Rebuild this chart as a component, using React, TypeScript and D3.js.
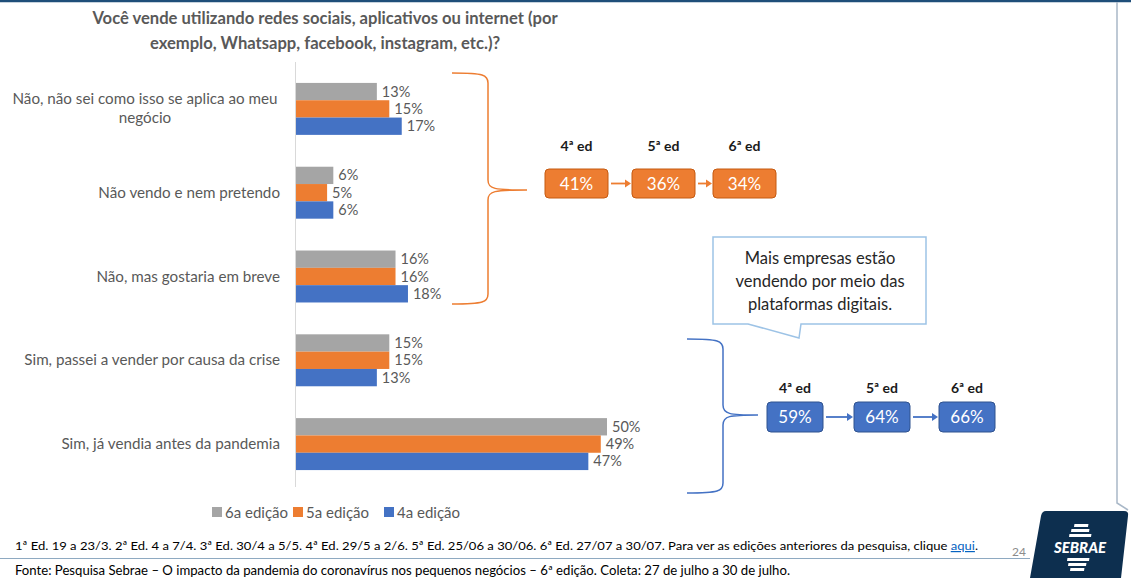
import React from 'react'
import * as d3 from 'd3'

// categories (top to bottom) and the three editions
const categories = [
  ['Não, não sei como isso se aplica ao meu', 'negócio'],
  ['Não vendo e nem pretendo'],
  ['Não, mas gostaria em breve'],
  ['Sim, passei a vender por causa da crise'],
  ['Sim, já vendia antes da pandemia'],
]
const series = ['6a edição', '5a edição', '4a edição']
const ed6 = [13, 6, 16, 15, 50]
const ed5 = [15, 5, 16, 15, 49]
const ed4 = [17, 6, 18, 13, 47]
const seriesValues = [ed6, ed5, ed4]
const colors = ['#A5A5A5', '#ED7D31', '#4472C4']

// summary boxes
const editions = ['4ª ed', '5ª ed', '6ª ed']
const naoTotals = [41, 36, 34]
const simTotals = [59, 64, 66]

const title = [
  'Você vende utilizando redes sociais, aplicativos ou internet (por',
  'exemplo, Whatsapp, facebook, instagram, etc.)?',
]
const callout = ['Mais empresas estão', 'vendendo por meio das', 'plataformas digitais.']
const footnote = '1ª Ed. 19 a 23/3. 2ª Ed. 4 a 7/4. 3ª Ed. 30/4 a 5/5. 4ª Ed. 29/5 a 2/6. 5ª Ed. 25/06 a 30/06. 6ª Ed. 27/07 a 30/07.  Para ver as edições anteriores da pesquisa, clique '
const source = 'Fonte: Pesquisa Sebrae – O impacto da pandemia do coronavírus nos pequenos negócios – 6ª edição. Coleta: 27 de julho a 30 de julho.'

const FONT = 'Lato, "Open Sans", sans-serif'
const TXT = '#595959'

// curly brace opening to the right: x0 = arms, x1 = spine, xt = tip
function brace(x0: number, x1: number, xt: number, yTop: number, yTip: number, yBot: number) {
  const p = d3.path()
  p.moveTo(x0, yTop)
  p.bezierCurveTo(x1 - 4, yTop, x1, yTop + 2, x1, yTop + 10)
  p.lineTo(x1, yTip - 10)
  p.bezierCurveTo(x1, yTip - 1, x1 + 6, yTip, xt, yTip)
  p.bezierCurveTo(x1 + 6, yTip, x1, yTip + 1, x1, yTip + 10)
  p.lineTo(x1, yBot - 10)
  p.bezierCurveTo(x1, yBot - 2, x1 - 4, yBot, x0, yBot)
  return p.toString()
}

function SummaryRow({ values, xs, yLabel, yBox, w, h, fill, stroke }: any) {
  return (
    <g>
      {values.map((v: number, i: number) => (
        <g key={i}>
          <text x={xs[i] + w / 2} y={yLabel} textAnchor="middle" fontFamily={FONT} fontWeight="bold" fontSize={14} fill="#1a1a1a">{editions[i]}</text>
          <rect x={xs[i]} y={yBox} width={w} height={h} rx={4} fill={fill} stroke={stroke} strokeWidth={1} />
          <text x={xs[i] + w / 2} y={yBox + h / 2 + 6} textAnchor="middle" fontFamily={FONT} fontSize={17} fill="#fff">{v}%</text>
          {i < values.length - 1 && (
            <g>
              <line x1={xs[i] + w + 3} x2={xs[i + 1] - 6} y1={yBox + h / 2} y2={yBox + h / 2} stroke={fill} strokeWidth={1.8} />
              <path d={`M${xs[i + 1] - 7},${yBox + h / 2 - 4}L${xs[i + 1] - 1},${yBox + h / 2}L${xs[i + 1] - 7},${yBox + h / 2 + 4}Z`} fill={fill} />
            </g>
          )}
        </g>
      ))}
    </g>
  )
}

// slanted white stripe of the logo
function stripe(cx: number, yTop: number, w: number) {
  const s = 0.15
  return `M${cx - w / 2 + s * 3},${yTop} L${cx + w / 2 + s * 3},${yTop} L${cx + w / 2},${yTop + 3} L${cx - w / 2},${yTop + 3} Z`
}

export default function App() {
  const width = 1131
  const height = 578
  const x = d3.scaleLinear().domain([0, 50]).range([296, 607])
  const y = d3.scaleBand<number>().domain(d3.range(categories.length)).range([67, 486]).paddingInner(0.38).paddingOuter(0.19)
  const ys = d3.scaleBand<number>().domain(d3.range(series.length)).range([0, y.bandwidth()])

  const orangeXs = [545, 632, 713]
  const blueXs = [767, 854, 939]

  return (
    <div style={{ position: 'absolute', left: 0, top: 0 }}>
      <svg width={width} height={height} style={{ display: 'block', background: '#fff' }}>
        {/* frame */}
        <line x1={0} x2={width} y1={1} y2={1} stroke="#1F4E79" strokeWidth={2.5} />
        <path d="M1117,2 L1117,503 L1128,510" fill="none" stroke="#A9B8C8" strokeWidth={1.5} />

        {/* title */}
        {title.map((t, i) => (
          <text key={i} x={325} y={24 + i * 25} textAnchor="middle" fontFamily={FONT} fontWeight="bold" fontSize={16.6} fill={TXT}>{t}</text>
        ))}

        {/* axis */}
        <line x1={x(0) - 0.5} x2={x(0) - 0.5} y1={62} y2={487} stroke="#D9D9D9" strokeWidth={1} />

        {/* category labels */}
        {categories.map((lines, i) => {
          const cy = y(i)! + y.bandwidth() / 2
          if (lines.length === 1) {
            return <text key={i} x={280} y={cy + 5} textAnchor="end" fontFamily={FONT} fontSize={15.2} fill={TXT}>{lines[0]}</text>
          }
          return (
            <text key={i} x={145} y={cy - 5} textAnchor="middle" fontFamily={FONT} fontSize={15.2} fill={TXT}>
              {lines.map((l, j) => <tspan key={j} x={145} dy={j === 0 ? 0 : 19}>{l}</tspan>)}
            </text>
          )
        })}

        {/* bars */}
        {seriesValues.map((vals, s) => (
          <g key={s}>
            {vals.map((v, i) => {
              const by = y(i)! + ys(s)!
              return (
                <g key={i}>
                  <rect x={x(0)} y={by} width={x(v) - x(0)} height={ys.bandwidth()} fill={colors[s]} />
                  <text x={x(v) + 5} y={by + ys.bandwidth() / 2 + 5} fontFamily={FONT} fontSize={14.5} fill={TXT}>{v}%</text>
                </g>
              )
            })}
          </g>
        ))}

        {/* legend */}
        {series.map((s, i) => {
          const lx = [212, 293, 384][i]
          return (
            <g key={s}>
              <rect x={lx} y={507} width={10} height={10} fill={colors[i]} />
              <text x={lx + 13} y={518} fontFamily={FONT} fontSize={15} fill={TXT}>{s}</text>
            </g>
          )
        })}

        {/* braces */}
        <path d={brace(452, 488, 527, 73, 190, 304)} fill="none" stroke="#ED7D31" strokeWidth={1.5} />
        <path d={brace(687, 723, 758, 339, 415, 493)} fill="none" stroke="#4472C4" strokeWidth={1.5} />

        {/* summary boxes */}
        <SummaryRow values={naoTotals} xs={orangeXs} yLabel={151} yBox={169} w={63} h={29} fill="#ED7D31" stroke="#C55A11" />
        <SummaryRow values={simTotals} xs={blueXs} yLabel={393} yBox={402} w={56} h={30} fill="#4472C4" stroke="#2F528F" />

        {/* callout */}
        <path d="M713,237 L926,237 L926,324 L801,324 L799,338 L748,324 L713,324 Z" fill="#fff" stroke="#9DC3E6" strokeWidth={1.5} />
        {callout.map((t, i) => (
          <text key={i} x={820} y={264 + i * 23} textAnchor="middle" fontFamily={FONT} fontSize={16.5} fill="#262626">{t}</text>
        ))}

        {/* footer */}
        <text x={15} y={550} fontFamily={FONT} fontSize={12} fill="#000" textLength={963} lengthAdjust="spacingAndGlyphs">
          {footnote}
          <tspan fill="#0563C1" textDecoration="underline">aqui</tspan>
          <tspan>.</tspan>
        </text>
        <line x1={0} x2={1030} y1={558.5} y2={558.5} stroke="#8EA9C1" strokeWidth={1} />
        <text x={1026} y={556} textAnchor="end" fontFamily={FONT} fontSize={12} fill="#8C8C8C">24</text>
        <text x={15} y={575} fontFamily={FONT} fontSize={12.5} fill="#000" textLength={775} lengthAdjust="spacingAndGlyphs">{source}</text>

        {/* logo */}
        <path d="M1046,511 L1124,511 Q1129,511 1128,516 L1121,578 L1030,578 L1041,516 Q1042,511 1046,511 Z" fill="#0D2F4F" />
        <g fill="#fff">
          <path d={stripe(1081, 524, 14)} />
          <path d={stripe(1080, 529, 18)} />
          <path d={stripe(1080, 534, 22)} />
          <path d={stripe(1078, 558, 22)} />
          <path d={stripe(1077, 563, 18)} />
          <path d={stripe(1077, 568, 14)} />
        </g>
        <text x={1080} y={553} textAnchor="middle" fontFamily={FONT} fontWeight="900" fontStyle="italic" fontSize={15} fill="#fff">SEBRAE</text>
      </svg>
    </div>
  )
}
